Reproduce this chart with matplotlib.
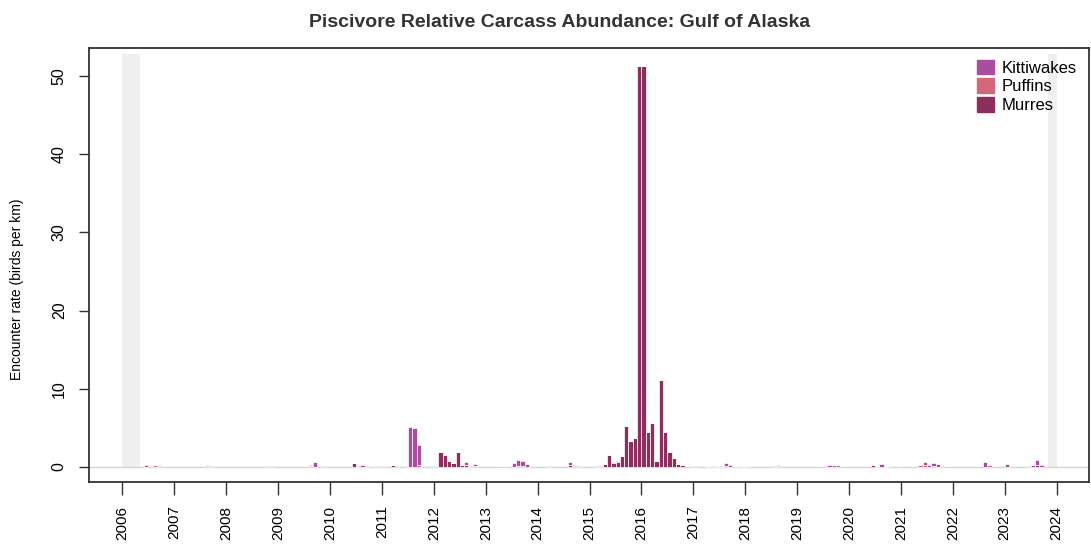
import numpy as np
import matplotlib.pyplot as plt
from matplotlib.patches import Patch

plt.rcParams['font.family'] = ['Liberation Sans', 'DejaVu Sans']

# Monthly encounter rates (birds per km); months not listed are zero
months = [
    "2006-06", "2006-08", "2006-09", "2007-08", "2007-09", "2008-10", "2008-11",
    "2009-08", "2009-09", "2009-11", "2010-06", "2010-07", "2010-08", "2010-09",
    "2010-11", "2010-12", "2011-01", "2011-03", "2011-04", "2011-06", "2011-07",
    "2011-08", "2011-09", "2011-10", "2011-12", "2012-01", "2012-02", "2012-03",
    "2012-04", "2012-05", "2012-06", "2012-07", "2012-08", "2012-09", "2012-10",
    "2013-05", "2013-07", "2013-08", "2013-09", "2013-10", "2014-03", "2014-08",
    "2014-09", "2014-10", "2015-02", "2015-03", "2015-04", "2015-05", "2015-06",
    "2015-07", "2015-08", "2015-09", "2015-10", "2015-11", "2015-12", "2016-01",
    "2016-02", "2016-03", "2016-04", "2016-05", "2016-06", "2016-07", "2016-08",
    "2016-09", "2016-10", "2016-11", "2017-01", "2017-04", "2017-05", "2017-06",
    "2017-07", "2017-08", "2017-09", "2017-10", "2017-11", "2017-12", "2018-01",
    "2018-07", "2018-08", "2019-07", "2019-08", "2019-09", "2019-10", "2020-06",
    "2020-07", "2020-08", "2020-09", "2020-10", "2020-12", "2021-05", "2021-06",
    "2021-07", "2021-08", "2021-09", "2021-10", "2022-08", "2022-09", "2023-01",
    "2023-06", "2023-07", "2023-08", "2023-09",
]
murres = [
    0, 0, 0.15, 0.15, 0, 0, 0,
    0.1, 0, 0, 0.5, 0, 0, 0,
    0, 0.12, 0, 0.28, 0, 0, 0.05,
    0.05, 0, 0.15, 0, 0.15, 1.96, 1.53,
    0.8, 0.55, 1.92, 0.3, 0.3, 0, 0.15,
    0.15, 0, 0.1, 0.1, 0, 0, 0.25,
    0.15, 0, 0, 0, 0.4, 1.5, 0.5,
    0.6, 1.36, 5.24, 3.3, 3.67, 51.2, 51.2,
    4.43, 5.67, 0.77, 11.1, 4.5, 1.92, 1.1,
    0.34, 0.25, 0.15, 0, 0, 0, 0,
    0, 0.1, 0, 0, 0.15, 0, 0,
    0, 0.1, 0, 0, 0, 0, 0.2,
    0, 0, 0, 0.15, 0.12, 0, 0,
    0, 0.1, 0, 0, 0, 0, 0,
    0, 0, 0.2, 0,
]
puffins = [
    0, 0.3, 0, 0, 0.05, 0, 0,
    0, 0, 0, 0, 0, 0, 0,
    0, 0, 0, 0, 0, 0, 0,
    0, 0.2, 0, 0, 0, 0, 0,
    0, 0, 0, 0, 0, 0, 0,
    0, 0, 0, 0, 0, 0, 0,
    0, 0, 0, 0, 0, 0, 0,
    0, 0, 0, 0, 0, 0, 0,
    0, 0, 0, 0, 0, 0, 0,
    0, 0, 0, 0, 0.1, 0, 0.1,
    0, 0, 0, 0.12, 0, 0.1, 0.1,
    0, 0, 0, 0, 0.2, 0.25, 0,
    0.15, 0, 0.15, 0, 0, 0.25, 0.3,
    0, 0, 0, 0, 0, 0.3, 0,
    0, 0, 0, 0,
]
kittiwakes = [
    0.25, 0, 0.05, 0.05, 0.1, 0.12, 0.12,
    0.2, 0.6, 0.12, 0, 0.12, 0.28, 0.1,
    0.1, 0, 0.1, 0, 0.1, 0.1, 5.02,
    4.95, 2.6, 0, 0.1, 0, 0, 0,
    0, 0, 0, 0, 0.35, 0.12, 0.2,
    0, 0.45, 0.75, 0.62, 0.35, 0.12, 0.35,
    0.15, 0.15, 0.1, 0.1, 0, 0, 0.15,
    0.12, 0, 0, 0, 0, 0, 0,
    0, 0, 0, 0, 0, 0, 0,
    0, 0.05, 0, 0.12, 0, 0.1, 0,
    0.15, 0.4, 0.2, 0, 0, 0, 0,
    0.15, 0.15, 0.1, 0.3, 0, 0, 0,
    0, 0.38, 0, 0, 0, 0, 0.3,
    0.2, 0.4, 0.4, 0.15, 0.64, 0, 0.35,
    0.12, 0.2, 0.7, 0.2,
]
# periods with no surveys (shaded)
no_data = [("2006-01", "2006-04"), ("2023-11", "2023-12")]
years = list(range(2006, 2025))

c_kitti = '#a94e9e'
c_puff = '#d2697b'
c_murre = '#8c2f5d'


def to_year(s):
    y, m = s.split("-")
    return int(y) + (int(m) - 0.5) / 12


x = np.array([to_year(m) for m in months])
mu = np.array(murres)
pu = np.array(puffins)
ki = np.array(kittiwakes)
total = mu + pu + ki

fig = plt.figure(figsize=(10.91, 5.44), dpi=100)
ax = fig.add_axes([0.0816, 0.114, 0.9164, 0.798])

band_h = total.max() * 1.03
for a, b in no_data:
    x0 = to_year(a) - 1 / 24
    x1 = to_year(b) + 1 / 24
    ax.bar(x0, band_h, width=x1 - x0, align='edge', color='#efefef', zorder=0)

ax.axhline(0, color='#d4d4d4', lw=1, zorder=1)

w = 1 / 12
kw = dict(width=w, edgecolor='white', linewidth=0.5, zorder=2)
ax.bar(x, mu, color=c_murre, **kw)
ax.bar(x, pu, bottom=mu, color=c_puff, **kw)
ax.bar(x, ki, bottom=mu + pu, color=c_kitti, **kw)

ax.set_xlim(2005.355, 2024.62)
ax.set_ylim(-1.92, 53.58)
ax.set_xticks(years)
ax.set_xticklabels([str(y) for y in years], rotation=90, fontsize=11)
ax.set_yticks([0, 10, 20, 30, 40, 50])
ax.set_yticklabels(['0', '10', '20', '30', '40', '50'], rotation=90,
                   va='center', fontsize=11.5)
ax.tick_params(axis='x', length=9, width=1, color='#333333', pad=8)
ax.tick_params(axis='y', length=7, width=1, color='#333333', pad=9)
for sp in ax.spines.values():
    sp.set_color('#333333')
    sp.set_linewidth(1.3)

ax.set_ylabel('Encounter rate (birds per km)', fontsize=10, labelpad=17)
ax.yaxis.set_label_coords(-0.065, 0.445)
fig.suptitle('Piscivore Relative Carcass Abundance: Gulf of Alaska',
             x=0.513, y=0.975, fontsize=14, fontweight='bold', color='#333333')

handles = [Patch(color=c_kitti, label='Kittiwakes'),
           Patch(color=c_puff, label='Puffins'),
           Patch(color=c_murre, label='Murres')]
ax.legend(handles=handles, loc='upper right', frameon=False, fontsize=12,
          handlelength=1.0, handleheight=1.0, handletextpad=0.5,
          labelspacing=0.15, borderaxespad=0.3)

fig.savefig('out.png', dpi=100)
